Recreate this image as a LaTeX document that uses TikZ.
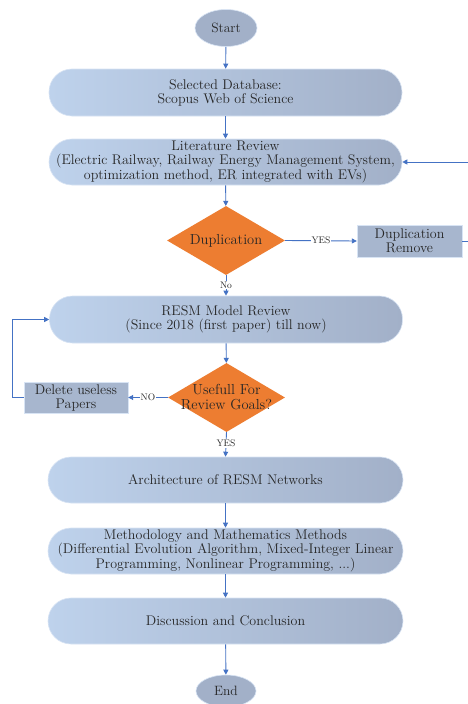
\documentclass[tikz,border=0pt]{standalone}
\usetikzlibrary{shapes.geometric,arrows.meta}

\definecolor{flowblue}{HTML}{4472C4}
\definecolor{boxlight}{HTML}{BED2EC}
\definecolor{boxdark}{HTML}{A2B0C8}
\definecolor{boxflat}{HTML}{A7B6CE}
\definecolor{decide}{HTML}{ED7D31}
\definecolor{ink}{HTML}{262626}

\tikzset{
  stadium/.style={rounded corners=23pt, minimum width=353pt, minimum height=47pt,
    inner sep=0pt, align=center, left color=boxlight, right color=boxdark,
    draw=boxlight!60!white, line width=0.6pt, text=ink,
    font=\fontsize{14}{14}\selectfont},
  terminal/.style={ellipse, minimum width=62pt, minimum height=37pt, inner sep=0pt,
    fill=boxdark, draw=boxlight!60!white, line width=0.6pt, text=ink,
    font=\fontsize{13.5}{14}\selectfont},
  decision/.style={diamond, aspect=1.71, minimum width=118pt, minimum height=69pt,
    inner sep=-6pt, fill=decide, align=center, text=ink,
    font=\fontsize{14.5}{15}\selectfont},
  actbox/.style={rectangle, minimum width=105pt, minimum height=32pt, inner sep=0pt,
    fill=boxflat, draw=boxlight!60!white, line width=0.4pt, align=center, text=ink,
    font=\fontsize{14}{14}\selectfont},
  arr/.style={draw=flowblue, line width=0.9pt, -{Triangle[length=5pt,width=5pt]}},
  tag/.style={fill=white, inner sep=1pt, text=ink, font=\fontsize{9.5}{10}\selectfont},
}

\begin{document}
\begin{tikzpicture}[x=1pt,y=-1pt]
  \useasboundingbox[fill=white] (0,0) rectangle (467,704);

  % main column
  \node[terminal] (start) at (226,28) {Start};
  \node[stadium] (db) at (225.5,92.5) {Selected Database:\\Scopus Web of Science};
  \node[stadium, minimum height=46pt] (lit) at (225.5,162)
    {Literature Review\\(Electric Railway, Railway Energy Management System,\\optimization method, ER integrated with EVs)};
  \node[decision] (dup) at (226,240.5) {Duplication};
  \node[actbox] (dupr) at (409.5,241) {Duplication\\Remove};
  \node[stadium] (resm) at (226,319.5) {RESM Model Review\\(Since 2018 (first paper) till now)};
  \node[decision, minimum width=117pt] (use) at (226.5,397.5) {Usefull For\\Review Goals?};
  \node[actbox, minimum width=104pt, minimum height=31pt] (del) at (76,397.5) {Delete useless\\Papers};
  \node[stadium, minimum width=355pt, minimum height=46pt] (arch) at (225.5,480) {Architecture of RESM Networks};
  \node[stadium, minimum width=355pt, minimum height=46pt] (meth) at (225.5,551)
    {Methodology and Mathematics Methods\\(Differential Evolution Algorithm, Mixed-Integer Linear\\Programming, Nonlinear Programming, ...)};
  \node[stadium, minimum width=355pt, minimum height=46pt] (disc) at (225.5,621) {Discussion and Conclusion};
  \node[terminal, minimum width=60pt, minimum height=32pt] (end) at (226,691) {End};

  % loop anchors
  \coordinate (loopR) at (485,0);
  \coordinate (loopL) at (12,0);

  % connectors
  \draw[arr] (start) -- (db);
  \draw[arr] (db) -- (lit);
  \draw[arr] (lit) -- (dup);
  \draw[arr] (dup.east) -- node[tag, pos=0.5] {YES} (dupr.west);
  \draw[arr] (dupr.east) -- (dupr.east -| loopR) -- (lit.east -| loopR) -- (lit.east);
  \draw[arr] (dup.south) -- node[tag, pos=0.48] {No} (resm.north);
  \draw[arr] (resm) -- (use);
  \draw[arr] (use.west) -- node[tag, pos=0.5] {NO} (del.east);
  \draw[arr] (del.west) -- (del.west -| loopL) -- (resm.west -| loopL) -- (resm.west);
  \draw[arr] (use.south) -- node[tag, pos=0.45] {YES} (arch.north);
  \draw[arr] (arch) -- (meth);
  \draw[arr] (meth) -- (disc);
  \draw[arr] (disc) -- (end);
\end{tikzpicture}
\end{document}
